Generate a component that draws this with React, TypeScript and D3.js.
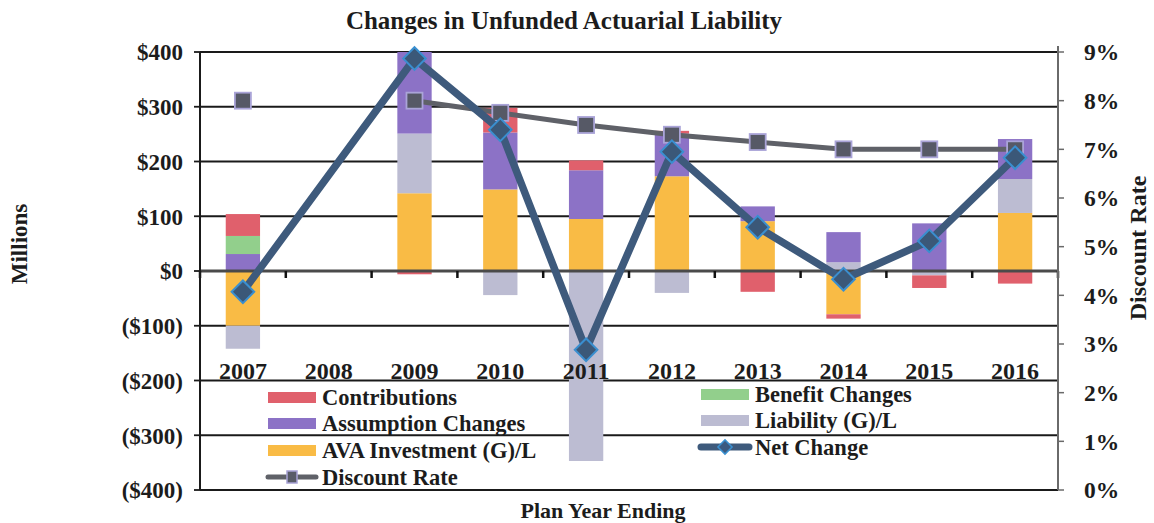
import React from 'react';
import * as d3 from 'd3';

const years = ['2007', '2008', '2009', '2010', '2011', '2012', '2013', '2014', '2015', '2016'];
const contributions = [40, 0, -6, 45, 18, 5, -38, -8, -23, -23];
const benefitChanges = [33, 0, 0, 0, 0, 0, 0, 0, 0, 0];
const assumptionChanges = [31, 0, 152, 104, 89, 78, 27, 55, 87, 73];
const liabilityGL = [-42, 0, 109, -44, -347, -40, 0, 16, -8, 62];
const avaInvestment = [-100, 0, 142, 149, 95, 173, 91, -79, 0, 106];
const netChange: (number | null)[] = [-38, null, 388, 258, -144, 218, 80, -15, 55, 207];
const discountRate: (number | null)[] = [8.0, null, 8.0, 7.75, 7.5, 7.3, 7.15, 7.0, 7.0, 7.0];
const leftTicks = [400, 300, 200, 100, 0, -100, -200, -300, -400];
const rightTicks = [9, 8, 7, 6, 5, 4, 3, 2, 1, 0];

// bottom-to-top stacking order
const stackKeys = ['ava', 'liability', 'assumption', 'benefit', 'contributions'];
const colors: Record<string, string> = {
  contributions: '#e0606c',
  benefit: '#92cf8c',
  assumption: '#8c72c6',
  liability: '#bcbcd2',
  ava: '#f9bb45',
};

const FONT = '"Liberation Serif", "Times New Roman", serif';
const INK = '#1c1c1c';

export default function App() {
  const width = 1154;
  const height = 523;
  const left = 200, right = 1058, top = 52, bottom = 490;

  const x = d3.scaleBand<string>().domain(years).range([left, right]).padding(0);
  const barW = x.bandwidth() * 0.4;
  const y = d3.scaleLinear().domain([-400, 400]).range([bottom, top]);
  const yR = d3.scaleLinear().domain([0, 9]).range([bottom, top]);
  const cx = (yr: string) => (x(yr) as number) + x.bandwidth() / 2;

  const rows = years.map((yr, i) => ({
    year: yr,
    ava: avaInvestment[i],
    liability: liabilityGL[i],
    assumption: assumptionChanges[i],
    benefit: benefitChanges[i],
    contributions: contributions[i],
  }));
  const series = d3.stack<any>().keys(stackKeys).offset(d3.stackOffsetDiverging)(rows);

  // net change skips the empty year but keeps the line joined
  const netPts = netChange.map((v, i) => ({ v, i })).filter(d => d.v !== null);
  const netPath = d3.line<{ v: number | null; i: number }>()
    .x(d => cx(years[d.i]))
    .y(d => y(d.v as number))(netPts);

  // discount rate leaves a gap
  const discPath = d3.line<number | null>()
    .defined(d => d !== null)
    .x((_, i) => cx(years[i]))
    .y(d => yR(d as number))(discountRate);

  const zeroY = y(0);

  const legendLeft = [
    { label: 'Contributions', key: 'contributions' },
    { label: 'Assumption Changes', key: 'assumption' },
    { label: 'AVA Investment (G)/L', key: 'ava' },
    { label: 'Discount Rate', key: 'disc' },
  ];
  const legendRight = [
    { label: 'Benefit Changes', key: 'benefit' },
    { label: 'Liability (G)/L', key: 'liability' },
    { label: 'Net Change', key: 'net' },
  ];
  const rowY = [397, 423, 450, 477];

  const legendItem = (it: { label: string; key: string }, sx: number, ry: number) => {
    let sw: React.ReactNode;
    if (it.key === 'net') {
      sw = (
        <g>
          <line x1={sx} x2={sx + 48} y1={ry} y2={ry} stroke="#3e5a7c" strokeWidth={7} strokeLinecap="round" />
          <rect x={sx + 24 - 5} y={ry - 5} width={10} height={10} transform={`rotate(45 ${sx + 24} ${ry})`} fill="#3b5a80" stroke="#3a90d0" strokeWidth={1.5} />
        </g>
      );
    } else if (it.key === 'disc') {
      sw = (
        <g>
          <line x1={sx} x2={sx + 48} y1={ry} y2={ry} stroke="#5f6168" strokeWidth={5} strokeLinecap="round" />
          <rect x={sx + 24 - 5} y={ry - 6} width={10} height={12} fill="#595c68" stroke="#a8a2d6" strokeWidth={1.5} />
        </g>
      );
    } else {
      sw = <rect x={sx} y={ry - 5} width={48} height={11} fill={colors[it.key]} />;
    }
    return (
      <g key={it.label}>
        {sw}
        <text x={sx + 54} y={ry} dy="0.36em" fontSize={22.5} fontWeight="bold" fill={INK} fontFamily={FONT}>
          {it.label}
        </text>
      </g>
    );
  };

  return (
    <svg width={width} height={height} style={{ position: 'absolute', left: 0, top: 0, background: '#fff' }} fontFamily={FONT}>
      <defs>
        <clipPath id="plot">
          <rect x={left} y={top} width={right - left} height={bottom - top} />
        </clipPath>
      </defs>

      <text x={564} y={29} textAnchor="middle" fontSize={25} fontWeight="bold" fill={INK}>
        Changes in Unfunded Actuarial Liability
      </text>

      {/* gridlines */}
      {leftTicks.filter(t => t !== 0).map(t => (
        <line key={t} x1={left} x2={right} y1={y(t)} y2={y(t)} stroke="#1a1a1a" strokeWidth={1.8} />
      ))}

      {/* stacked bars */}
      <g clipPath="url(#plot)">
        {series.map(s => (
          <g key={s.key} fill={colors[s.key]}>
            {s.map((d, i) => {
              const h = Math.abs(y(d[0]) - y(d[1]));
              if (h < 0.5) return null;
              return (
                <rect key={i} x={cx(years[i]) - barW / 2} y={Math.min(y(d[0]), y(d[1]))} width={barW} height={h} />
              );
            })}
          </g>
        ))}
      </g>

      {/* zero axis with band ticks */}
      <line x1={left} x2={right} y1={zeroY} y2={zeroY} stroke="#4a4a4a" strokeWidth={3} />
      {years.map(yr => (
        <line key={yr} x1={x(yr) as number} x2={x(yr) as number} y1={zeroY} y2={zeroY + 7} stroke="#111" strokeWidth={2.5} />
      ))}
      <line x1={right} x2={right} y1={zeroY} y2={zeroY + 7} stroke="#111" strokeWidth={2.5} />

      {/* axes frame */}
      <line x1={left} x2={left} y1={top} y2={bottom} stroke="#1a1a1a" strokeWidth={2} />
      <line x1={left} x2={right} y1={bottom} y2={bottom} stroke="#1a1a1a" strokeWidth={2} />
      <line x1={right} x2={right} y1={top - 6} y2={bottom} stroke="#6a6a6a" strokeWidth={2} />
      {leftTicks.map(t => (
        <line key={t} x1={left - 6} x2={left} y1={y(t)} y2={y(t)} stroke="#1a1a1a" strokeWidth={1.8} />
      ))}
      {rightTicks.map(t => (
        <line key={t} x1={right} x2={right + 6} y1={yR(t)} y2={yR(t)} stroke="#6a6a6a" strokeWidth={1.5} />
      ))}

      {/* left labels */}
      {leftTicks.map(t => (
        <text key={t} x={183} y={y(t)} dy="0.36em" textAnchor="end" fontSize={23} fontWeight="bold" fill={INK}>
          {t < 0 ? `($${Math.abs(t)})` : `$${t}`}
        </text>
      ))}
      {/* right labels */}
      {rightTicks.map(t => (
        <text key={t} x={1084} y={yR(t)} dy="0.36em" fontSize={23.5} fontWeight="bold" fill={INK}>
          {`${t}%`}
        </text>
      ))}

      {/* year labels */}
      {years.map(yr => (
        <text key={yr} x={cx(yr)} y={379} textAnchor="middle" fontSize={24} fontWeight="bold" fill={INK}>
          {yr}
        </text>
      ))}

      {/* legend */}
      {legendLeft.map((it, i) => legendItem(it, 268, rowY[i]))}
      {legendRight.map((it, i) => legendItem(it, 701, rowY[i] - 3))}

      {/* discount rate line */}
      <path d={discPath || ''} fill="none" stroke="#5f6168" strokeWidth={5} />
      {discountRate.map((v, i) =>
        v === null ? null : (
          <rect key={i} x={cx(years[i]) - 8} y={yR(v) - 8} width={16} height={16} fill="#565966" stroke="#aaa4d8" strokeWidth={1.8} />
        )
      )}

      {/* net change line */}
      <path d={netPath || ''} fill="none" stroke="#3e5a7c" strokeWidth={7.5} strokeLinejoin="round" />
      {netPts.map(d => {
        const px = cx(years[d.i]);
        const py = y(d.v as number);
        return (
          <rect key={d.i} x={px - 8} y={py - 8} width={16} height={16} transform={`rotate(45 ${px} ${py})`} fill="#3b5878" stroke="#3a8fd0" strokeWidth={2} />
        );
      })}

      {/* axis titles */}
      <text transform={`translate(27,244) rotate(-90)`} textAnchor="middle" fontSize={23} fontWeight="bold" fill={INK}>
        Millions
      </text>
      <text transform={`translate(1146,248) rotate(-90)`} textAnchor="middle" fontSize={24} fontWeight="bold" fill={INK}>
        Discount Rate
      </text>
      <text x={603} y={518} textAnchor="middle" fontSize={22} fontWeight="bold" fill={INK}>
        Plan Year Ending
      </text>
    </svg>
  );
}
